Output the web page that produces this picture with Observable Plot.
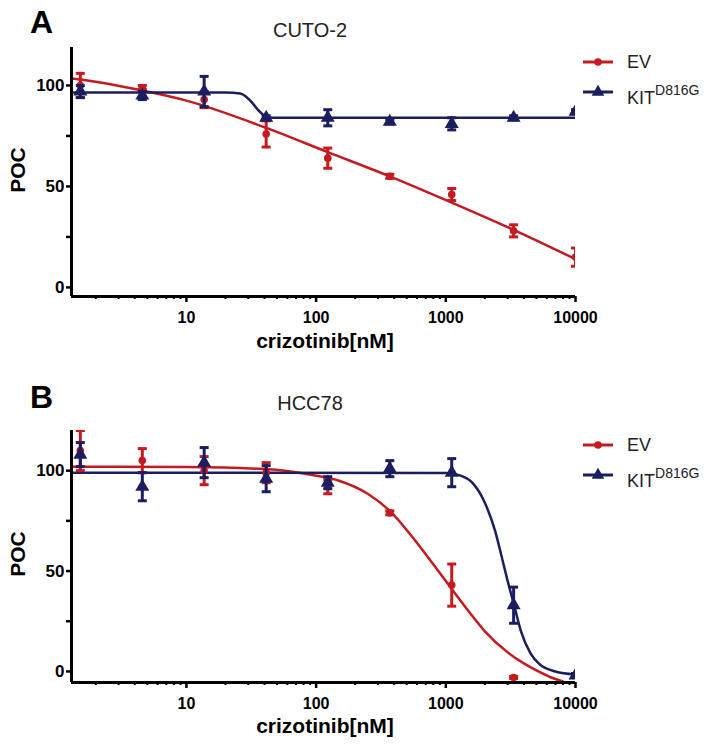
<!DOCTYPE html>
<html><head><meta charset="utf-8">
<script src="https://cdn.jsdelivr.net/npm/d3@7"></script>
<script src="https://cdn.jsdelivr.net/npm/@observablehq/plot@0.6"></script>
<style>
body{margin:0;background:#fff;font-family:"Liberation Sans",Arial,sans-serif;}
#wrap{position:relative;width:716px;height:750px;overflow:hidden;background:#fff;}
#wrap > svg{position:absolute;left:0;}
</style></head><body><div id="wrap"></div>
<script>
// ---- data ----
const conc = [1.52, 4.57, 13.7, 41.2, 123, 370, 1111, 3333, 10000];
const xTicks = [10, 100, 1000, 10000];
const xMinorTicks = [2,3,4,5,6,7,8,9,20,30,40,50,60,70,80,90,200,300,400,500,600,700,800,900,2000,3000,4000,5000,6000,7000,8000,9000];
const yTicks = [0, 50, 100];
const yMinorTicks = [25, 75];
const seriesLabels = ["EV", "KIT"];
const panelTitles = ["CUTO-2", "HCC78"];
const panelLetters = ["A", "B"];
const xLabel = "crizotinib[nM]";
const yLabel = "POC";

// CUTO-2
const cutoEvMean = [100, 99, 93, 76, 64, 55, 46, 28, 15];
const cutoEvErr  = [6, 1, 4, 6.5, 5, 1, 3, 3, 4.5];
const cutoKitMean = [97, 95, 97, 84, 84, 82, 81, 84, 87];
const cutoKitErr  = [3, 2, 7.5, 1, 4, 1, 3, 1, 1];
const cutoEvFitX = [1.3, 1.52, 4.57, 10, 41.2, 123, 370, 1111, 3333, 10000];
const cutoEvFitY = [103.5, 103, 97.5, 92.5, 79, 67, 55, 42, 28.5, 14];
const cutoKitFitX = [1.3, 20, 26, 31, 36, 42, 50, 10000];
const cutoKitFitY = [96.5, 96.5, 96, 92.6, 87.6, 84.3, 84, 84];

// HCC78
const hccEvMean = [110, 105, 100, 99, 92, 79, 43, -3, null];
const hccEvErr  = [10, 6, 7, 5, 3.5, 1, 10.5, 0.5, null];
const hccKitMean = [108, 92, 104, 96, 94, 101, 99, 33, -2];
const hccKitErr  = [6, 7, 7.5, 6.5, 3, 4, 7, 9, 1];
const hccEvFitX = [1.3, 10, 40, 100, 150, 250, 370, 600, 1000, 1500, 2000, 3000, 4000, 5000, 6500, 8000];
const hccEvFitY = [102, 101.8, 100.8, 97.5, 95, 88.5, 80, 64, 45, 30, 20, 9.5, 4, 0.5, -3, -5];
const hccKitFitX = [1.3, 1000, 1300, 1600, 2000, 2400, 2700, 3000, 3333, 3800, 4500, 5300, 7000, 10000];
const hccKitFitY = [99, 98.8, 97.5, 94, 84, 70, 57, 45, 34, 20, 9, 3.5, 0, -1.5];

const red = "#c41a20";
const navy = "#1b1d5e";
const font = "Liberation Sans, Arial, sans-serif";

const capSymbol = {draw(ctx) { ctx.moveTo(-4.5, 0); ctx.lineTo(4.5, 0); }};

function rows(means, errs) {
  return conc.map((c, i) => ({x: c, y: means[i], lo: means[i] - errs[i], hi: means[i] + errs[i]}))
    .filter(d => d.y != null);
}
function fit(xs, ys) { return xs.map((x, i) => ({x, y: ys[i]})); }

function seriesMarks(pts, color, symbol, r) {
  return [
    Plot.ruleX(pts, {x: "x", y1: "lo", y2: "hi", stroke: color, strokeWidth: 3, clip: true}),
    Plot.dot(pts, {x: "x", y: "hi", symbol: capSymbol, stroke: color, strokeWidth: 3, clip: true}),
    Plot.dot(pts, {x: "x", y: "lo", symbol: capSymbol, stroke: color, strokeWidth: 3, clip: true}),
    Plot.dot(pts, {x: "x", y: "y", symbol, r, fill: color, stroke: "none", clip: true})
  ];
}

function panel(o) {
  const xDomain = [1.3, 10000];
  return Plot.plot({
    width: 716, height: o.height,
    marginLeft: 71, marginRight: 141, marginTop: o.marginTop, marginBottom: o.marginBottom,
    x: {type: "log", domain: xDomain, label: null},
    y: {domain: o.yDomain, label: null},
    style: {fontFamily: font, background: "transparent", color: "#000"},
    marks: [
      Plot.axisX({ticks: xMinorTicks, tickSize: 3, tickFormat: () => "", strokeWidth: 2, label: null}),
      Plot.axisX({ticks: xTicks, tickSize: 6, tickPadding: 9, tickFormat: d => String(d), fontSize: 16, fontWeight: "bold", strokeWidth: 2.5, label: null}),
      Plot.axisY({ticks: yMinorTicks, tickSize: 5, tickFormat: () => "", strokeWidth: 2.5, label: null}),
      Plot.axisY({ticks: yTicks, tickSize: 5, tickPadding: 2, fontSize: 17, fontWeight: "bold", strokeWidth: 2.5, label: null}),
      Plot.line(o.evFit, {x: "x", y: "y", stroke: red, strokeWidth: 2.5, curve: "monotone-x", clip: true}),
      Plot.line(o.kitFit, {x: "x", y: "y", stroke: navy, strokeWidth: 2.5, curve: "monotone-x", clip: true}),
      ...seriesMarks(o.ev, red, "circle", 3.8),
      ...seriesMarks(o.kit, navy, "triangle", 5.2),
      Plot.ruleX([xDomain[0]], {strokeWidth: 3}),
      Plot.ruleY([o.yDomain[0]], {strokeWidth: 3})
    ]
  });
}

const wrap = document.getElementById("wrap");
const pA = panel({
  height: 360, marginTop: 47, marginBottom: 64, yDomain: [-4.5, 118.8],
  ev: rows(cutoEvMean, cutoEvErr), kit: rows(cutoKitMean, cutoKitErr),
  evFit: fit(cutoEvFitX, cutoEvFitY), kitFit: fit(cutoKitFitX, cutoKitFitY)
});
pA.style.top = "0px";
wrap.appendChild(pA);
const pB = panel({
  height: 380, marginTop: 60, marginBottom: 68, yDomain: [-5.5, 120],
  ev: rows(hccEvMean, hccEvErr), kit: rows(hccKitMean, hccKitErr),
  evFit: fit(hccEvFitX, hccEvFitY), kitFit: fit(hccKitFitX, hccKitFitY)
});
pB.style.top = "370px";
wrap.appendChild(pB);

// ---- overlay texts and legends ----
const ov = d3.select(wrap).append("svg")
  .attr("width", 716).attr("height", 750)
  .style("top", "0px").style("font-family", font);

const panelsLayout = [
  {letterY: 33, titleY: 37, pocY: 170, xlabY: 348, legY: 62},
  {letterY: 408, titleY: 410, pocY: 554, xlabY: 733, legY: 445}
];
panelsLayout.forEach((p, i) => {
  ov.append("text").attr("x", 30).attr("y", p.letterY).attr("font-size", 32).attr("font-weight", "bold").text(panelLetters[i]);
  ov.append("text").attr("x", 310).attr("y", p.titleY).attr("text-anchor", "middle").attr("font-size", 20).attr("fill", "#222").text(panelTitles[i]);
  ov.append("text").attr("transform", `translate(25,${p.pocY}) rotate(-90)`).attr("text-anchor", "middle").attr("font-size", 21).attr("font-weight", "bold").text(yLabel);
  ov.append("text").attr("x", 325).attr("y", p.xlabY).attr("text-anchor", "middle").attr("font-size", 21).attr("font-weight", "bold").text(xLabel);
  // legend
  const l = ov.append("g");
  const y1 = p.legY, y2 = p.legY + 30;
  l.append("line").attr("x1", 583).attr("x2", 613).attr("y1", y1).attr("y2", y1).attr("stroke", red).attr("stroke-width", 3);
  l.append("circle").attr("cx", 598).attr("cy", y1).attr("r", 3.8).attr("fill", red);
  l.append("text").attr("x", 627).attr("y", y1 + 6).attr("font-size", 18).attr("fill", "#222").text(seriesLabels[0]);
  l.append("line").attr("x1", 583).attr("x2", 613).attr("y1", y2).attr("y2", y2).attr("stroke", navy).attr("stroke-width", 3);
  l.append("path").attr("d", d3.symbol(d3.symbolTriangle, 70)()).attr("transform", `translate(598,${y2})`).attr("fill", navy);
  const t = l.append("text").attr("x", 627).attr("y", y2 + 12).attr("font-size", 18).attr("fill", "#222");
  t.append("tspan").text(seriesLabels[1]);
  t.append("tspan").attr("font-size", 14).attr("dy", -9).text("D816G");
});
</script></body></html>
